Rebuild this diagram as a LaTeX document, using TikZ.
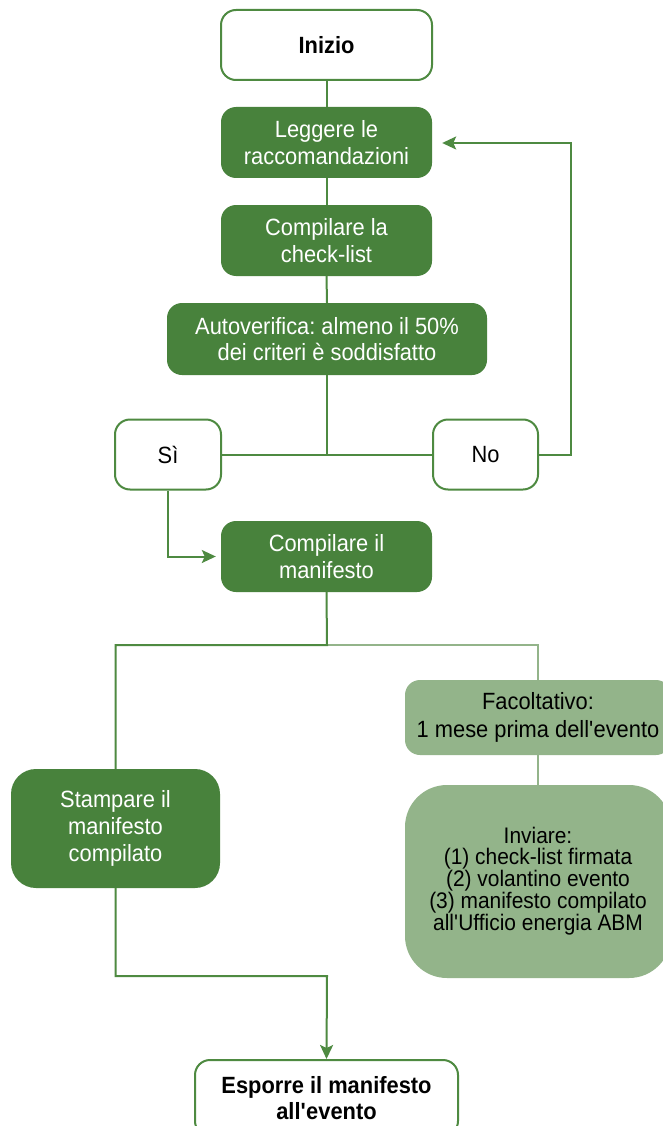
\documentclass[tikz,border=0pt]{standalone}
\usepackage{fontspec}
\setmainfont{Liberation Sans}[FakeStretch=0.93]
\frenchspacing
\usetikzlibrary{arrows.meta}
\definecolor{dkgreen}{HTML}{48823C}
\definecolor{ltgreen}{HTML}{93B48A}
\definecolor{lngreen}{HTML}{4E8A41}
\newcommand{\apo}{\textquotesingle}
\tikzset{
  base/.style={inner sep=2pt, align=center, rounded corners=15pt, font=\fontsize{23.5}{26.7}\selectfont},
  whitebox/.style={base, draw=lngreen, line width=2pt, fill=white, text=black, font=\fontsize{23.5}{26.7}\selectfont\bfseries},
  darkbox/.style={base, fill=dkgreen, text=white},
  lightbox/.style={base, fill=ltgreen, text=black},
  conn/.style={draw=lngreen, line width=2pt},
  lconn/.style={draw=ltgreen, line width=2pt},
  arr/.style={conn, -{Stealth[length=14pt,width=13pt,inset=3pt]}}
}
\begin{document}
\begin{tikzpicture}[x=1pt,y=-1pt]
\useasboundingbox (0,0) rectangle (663,1126);
\fill[white] (0,0) rectangle (663,1126);
% nodes
\node[whitebox, minimum width=211pt, minimum height=70pt] (inizio) at (326.5,45) {Inizio};
\node[darkbox, minimum width=211pt, minimum height=71pt] (leggere) at (326.5,142.5) {Leggere le\\raccomandazioni};
\node[darkbox, minimum width=211pt, minimum height=71pt] (check) at (326.5,240.5) {Compilare la\\check-list};
\node[darkbox, minimum width=320pt, minimum height=72pt] (auto) at (327,339) {Autoverifica: almeno il 50\%\\dei criteri è soddisfatto};
\node[whitebox, font=\fontsize{23.5}{26.7}\selectfont, minimum width=106pt, minimum height=70pt] (si) at (168,454.5) {Sì};
\node[whitebox, font=\fontsize{23.5}{26.7}\selectfont, minimum width=105pt, minimum height=70pt] (no) at (485.5,454.5) {No};
\node[darkbox, minimum width=211pt, minimum height=71pt] (manif) at (326.5,556.5) {Compilare il\\manifesto};
\node[darkbox, rounded corners=25pt, minimum width=209pt, minimum height=119pt] (stampa) at (115.5,828.5) {Stampare il\\manifesto\\compilato};
\node[lightbox, minimum width=266pt, minimum height=75pt, font=\fontsize{23.5}{27.5}\selectfont] (facolt) at (538,717.5) {Facoltativo:\\1 mese prima dell\apo evento};
\node[lightbox, rounded corners=42pt, minimum width=266pt, minimum height=193pt, font=\fontsize{22.5}{20.8}\selectfont] (inviare) at (538,881.5) {Inviare:\\(1) check-list firmata\\(2) volantino evento\\(3) manifesto compilato\\all\apo Ufficio energia ABM};
\node[whitebox, minimum width=263pt, minimum height=76pt] (esporre) at (326.5,1098) {Esporre il manifesto\\all\apo evento};
% coordinates
\coordinate (j1) at (327,454.5);
\coordinate (r1) at (571,454.5);
\coordinate (r2) at (571,143);
\coordinate (s1) at (168,556.5);
\coordinate (j2) at (327,645);
\coordinate (jl) at (115.5,645);
\coordinate (jr) at (538,645);
\coordinate (b1) at (115.5,976);
\coordinate (b2) at (327,976);
% connectors
\draw[conn] (inizio.south) -- (leggere.north);
\draw[conn] (leggere.south) -- (check.north);
\draw[conn] (check.south) -- (auto.north);
\draw[conn] (auto.south) -- (j1);
\draw[conn] (si.east) -- (no.west);
\draw[arr, shorten >=10pt] (no.east) -- (r1) -- (r2) -- (leggere.east |- r2);
\draw[arr, shorten >=5pt] (si.south) -- (s1) -- (manif.west);
\draw[lconn] (j2) -- (jr) -- (facolt.north);
\draw[lconn] (facolt.south) -- (inviare.north);
\draw[conn] (manif.south) -- (j2) -- (jl) -- (stampa.north);
\draw[arr] (stampa.south) -- (b1) -- (b2) -- (esporre.north);
\end{tikzpicture}
\end{document}
